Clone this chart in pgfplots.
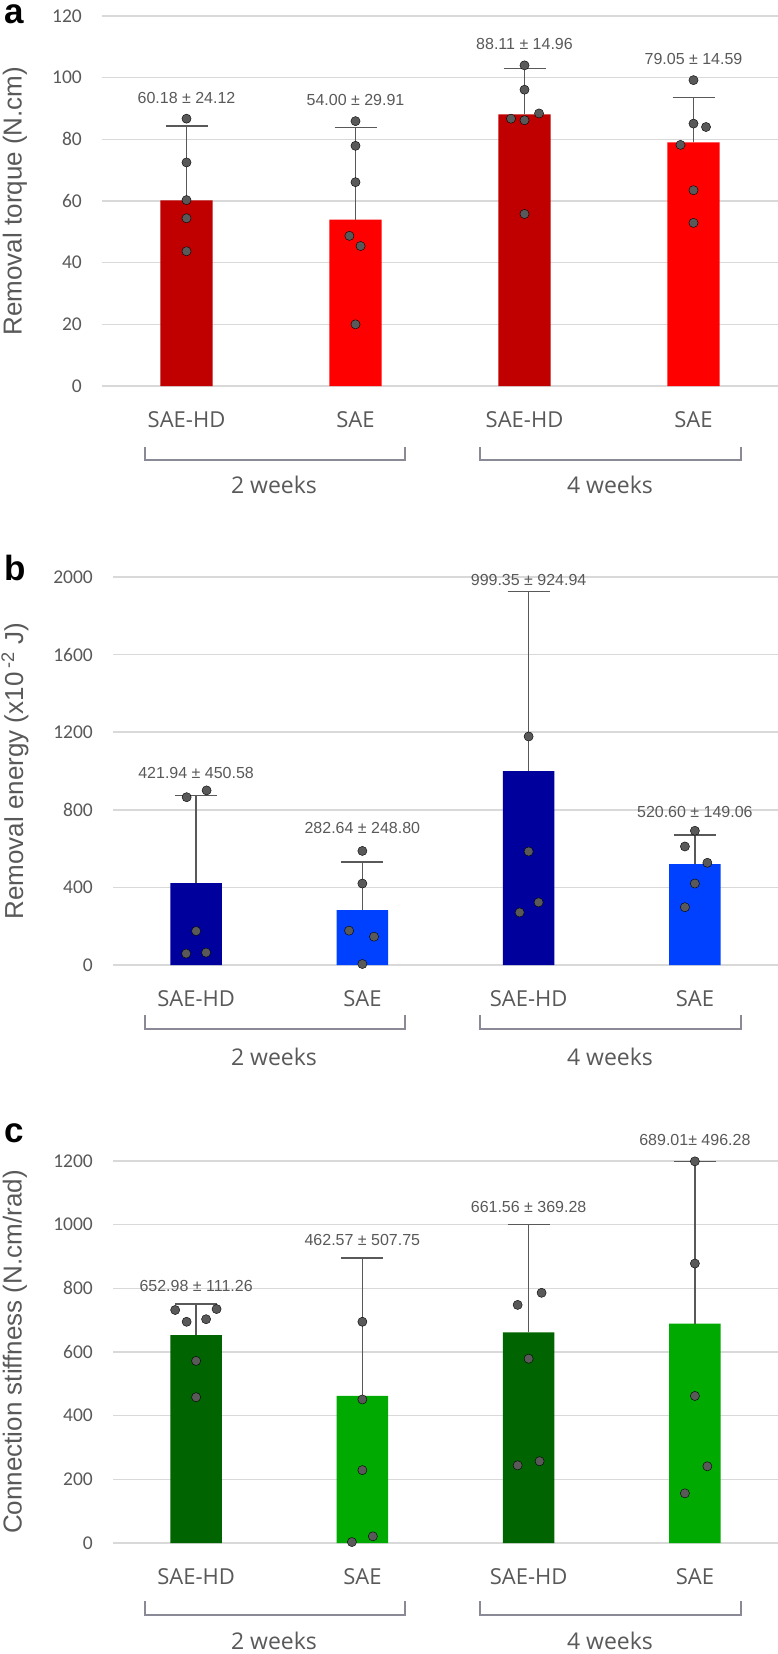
\documentclass[border=0pt]{standalone}
\usepackage{fontspec}
\setmainfont{Liberation Sans}
\newfontfamily\catfont{Open Sans}
\newfontfamily\tickfont{Carlito}
\usepackage{pgfplots}
\pgfplotsset{compat=1.18}
\definecolor{txtgray}{HTML}{595959}
\definecolor{gridgray}{HTML}{D9D9D9}
\definecolor{brgray}{HTML}{8A8A96}
\definecolor{ptgray}{HTML}{595959}
\definecolor{redD}{HTML}{C00000}
\definecolor{redL}{HTML}{FF0000}
\definecolor{bluD}{HTML}{00009C}
\definecolor{bluL}{HTML}{0041FF}
\definecolor{grnD}{HTML}{006400}
\definecolor{grnL}{HTML}{00AA00}
\tikzset{ann/.style={font=\fontsize{16bp}{18bp}\selectfont, text=txtgray, inner sep=0pt}}
\pgfplotsset{
  panel/.style={
    scale only axis, anchor=south west, clip=false,
    xmin=-0.5, xmax=3.5,
    axis line style={draw=none},
    major tick length=0pt,
    ymajorgrids, grid style={gridgray, line width=1.5bp},
    xtick={0,1,2,3},
    xticklabels={SAE-HD,SAE,SAE-HD,SAE},
    xticklabel style={font=\catfont\fontsize{22bp}{24bp}\selectfont, text=txtgray, anchor=north, inner sep=0pt, yshift=-25bp},
    yticklabel style={font=\tickfont\fontsize{19.5bp}{21bp}\selectfont, text=txtgray, anchor=east, inner sep=0pt, xshift=-20bp},
    /pgf/number format/assume math mode=true,
    /pgf/number format/1000 sep={},
    bar width=0.31,
  },
  pts/.style={only marks, mark=*, mark size=4.6bp, mark options={fill=ptgray, draw=none}, forget plot},
  bars/.style={ybar, bar shift=0pt, fill=#1, draw=none,
    error bars/.cd, y dir=plus, y explicit,
    error bar style={txtgray, line width=1.3bp},
    error mark options={txtgray, line width=1.3bp, rotate=90, mark size=21bp}},
}
\begin{document}
\begin{tikzpicture}
\useasboundingbox (0,0) rectangle (778bp,-1654bp);
% ---------------- panel a
\begin{axis}[panel, at={(102bp,-386bp)}, width=676bp, height=370bp,
  ymin=0, ymax=120, ytick={0,20,...,120}]
\addplot[bars=redD] coordinates {(0,60.18) +- (0,24.12) (2,88.11) +- (0,14.96)};
\addplot[bars=redL] coordinates {(1,54.00) +- (0,29.91) (3,79.05) +- (0,14.59)};
\addplot[pts] table {
x y
0 86.7
0 72.5
0 60.3
0 54.4
0 43.7
1 85.9
1 77.9
1 66.1
0.964 48.7
1.03 45.4
1 20.0
2 104.0
2 96.1
1.92 86.7
2 86.2
2.086 88.4
2 55.8
3 99.2
3 85.1
3.074 84.0
2.923 78.2
3 63.5
3 52.9
};
\node[ann] at (axis cs:0,93.4) {60.18 ± 24.12};
\node[ann] at (axis cs:1,92.7) {54.00 ± 29.91};
\node[ann] at (axis cs:2,110.8) {88.11 ± 14.96};
\node[ann] at (axis cs:3,106.2) {79.05 ± 14.59};
\end{axis}
% ---------------- panel b
\begin{axis}[panel, at={(113bp,-965bp)}, width=665bp, height=388bp,
  ymin=0, ymax=2000, ytick={0,400,...,2000}]
\addplot[bars=bluD] coordinates {(0,421.94) +- (0,450.58) (2,999.35) +- (0,924.94)};
\addplot[bars=bluL] coordinates {(1,282.64) +- (0,248.80) (3,520.60) +- (0,149.06)};
\addplot[pts] table {
x y
-0.057 865
0.063 900
0 175
-0.06 59
0.06 64
1 588
1 420
0.92 177
1.07 146
1 5
2 1178
2 585
1.946 271
2.06 323
3 692
2.94 611
3.075 527
3 420
2.94 298
};
\node[ann] at (axis cs:0,991) {421.94 ± 450.58};
\node[ann] at (axis cs:1,704) {282.64 ± 248.80};
\node[ann] at (axis cs:2,1986) {999.35 ± 924.94};
\node[ann] at (axis cs:3,791) {520.60 ± 149.06};
\end{axis}
% ---------------- panel c
\begin{axis}[panel, at={(113bp,-1543bp)}, width=665bp, height=382bp,
  ymin=0, ymax=1200, ytick={0,200,...,1200}]
\addplot[bars=grnD] coordinates {(0,652.98) +- (0,98) (2,661.56) +- (0,339)};
\addplot[bars=grnL] coordinates {(1,462.57) +- (0,433) (3,689.01) +- (0,510)};
\addplot[pts] table {
x y
-0.126 732
0.123 735
-0.057 695
0.06 703
0 572
0 458
1 695
1 451
1 229
0.937 3
1.063 21
1.934 748
2.078 786
2 579
1.934 244
2.066 257
3 1199
3 878
3 462
3.075 241
2.94 156
};
\node[ann] at (axis cs:0,806) {652.98 ± 111.26};
\node[ann] at (axis cs:1,952) {462.57 ± 507.75};
\node[ann] at (axis cs:2,1057) {661.56 ± 369.28};
\node[ann] at (axis cs:3,1265) {689.01± 496.28};
\end{axis}
% ---------------- panel letters and y labels
\node[anchor=base west, inner sep=0pt, font=\bfseries\fontsize{35bp}{36bp}\selectfont] at (4bp,-23bp) {a};
\node[anchor=base west, inner sep=0pt, font=\bfseries\fontsize{35bp}{36bp}\selectfont] at (4bp,-580bp) {b};
\node[anchor=base west, inner sep=0pt, font=\bfseries\fontsize{35bp}{36bp}\selectfont] at (4bp,-1142bp) {c};
\node[rotate=90, text=txtgray, font=\fontsize{26bp}{28bp}\selectfont] at (15bp,-201bp) {Removal torque (N.cm)};
\node[rotate=90, text=txtgray, font=\fontsize{26bp}{28bp}\selectfont] at (15bp,-771bp) {Removal energy (x10\,\textsuperscript{-2} J)};
\node[rotate=90, text=txtgray, font=\fontsize{26bp}{28bp}\selectfont] at (15bp,-1352bp) {Connection stiffness (N.cm/rad)};
% ---------------- brackets and group labels
\foreach \yt/\yb/\yw in {447/460/485, 1015/1029/1057, 1601/1615/1641} {
  \draw[brgray, line width=1.5bp] (145bp,-\yt bp) -- (145bp,-\yb bp) -- (405bp,-\yb bp) -- (405bp,-\yt bp);
  \draw[brgray, line width=1.5bp] (480bp,-\yt bp) -- (480bp,-\yb bp) -- (741bp,-\yb bp) -- (741bp,-\yt bp);
  \node[text=txtgray, font=\catfont\fontsize{23bp}{25bp}\selectfont] at (274bp,-\yw bp) {2 weeks};
  \node[text=txtgray, font=\catfont\fontsize{23bp}{25bp}\selectfont] at (610bp,-\yw bp) {4 weeks};
}
\end{tikzpicture}
\end{document}
